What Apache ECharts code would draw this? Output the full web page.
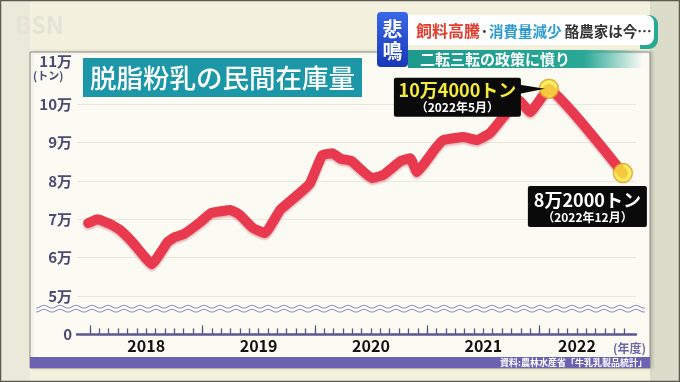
<!DOCTYPE html>
<html><head><meta charset="utf-8">
<script src="https://cdn.jsdelivr.net/npm/echarts@6/dist/echarts.min.js"></script>
<style>html,body{margin:0;padding:0;background:#f3f1dd}#c{width:680px;height:382px}</style>
</head><body><div id="c"></div>
<script>
// months counted from April 2018 (start of fiscal 2018)
const monthIdx = [-0.2, 0.8, 2.1, 3.2, 4.5, 6.6, 8.3, 9.1, 10.0, 11.8, 12.9, 15.0, 16.0, 17.4, 18.7, 20.3, 22.4, 23.5, 24.8, 25.9, 26.8, 27.9, 30.1, 31.3, 33.2, 34.2, 34.9, 36.9, 37.7, 39.9, 41.3, 42.7, 45.8, 47.0, 49.0, 56.9];
// private stock of skim milk powder, 万トン
const stock = [6.90, 7.00, 6.88, 6.72, 6.41, 5.83, 6.41, 6.54, 6.61, 6.93, 7.16, 7.24, 7.11, 6.77, 6.64, 7.24, 7.68, 7.94, 8.67, 8.72, 8.57, 8.52, 8.07, 8.15, 8.52, 8.59, 8.23, 8.85, 9.06, 9.14, 9.06, 9.24, 10.1, 9.79, 10.4, 8.2];
const yearLabels = ['2018', '2019', '2020', '2021', '2022'];
const yearLabelPos = [6, 18, 30, 42, 52];
const fiscalStarts = [0, 12, 24, 36, 48];
const firstMonthTick = 0, lastMonthTick = 57;
const peakIndex = 34, endIndex = 35;
const peakText = '10万4000トン', peakDate = '（2022年5月）';
const endText = '8万2000トン', endDate = '（2022年12月）';
const FONT = 'Noto Sans CJK JP';

const XMIN = -1.39, XMAX = 58.3, GL = 77, GW = 559;
const px = m => GL + (m - XMIN) / (XMAX - XMIN) * GW;

const chart = echarts.init(document.getElementById('c'), null, {renderer: 'canvas'});
const gridBox = {left: GL, right: 680 - GL - GW, top: 65.6, bottom: 47.6, containLabel: false};
const tickGrid = {left: px(firstMonthTick), right: 680 - px(lastMonthTick), top: 65.6, bottom: 47.6, containLabel: false};
chart.setOption({
  backgroundColor: '#f3f1dd',
  animation: false,
  grid: [gridBox, Object.assign({}, gridBox), tickGrid],
  xAxis: [
    {type: 'value', min: XMIN, max: XMAX, gridIndex: 0, position: 'bottom',
      splitLine: {show: false},
      axisLine: {show: true, lineStyle: {color: '#5b5890', width: 2.5}},
      axisTick: {show: false},
      axisLabel: {show: true, customValues: yearLabelPos, margin: 4,
        formatter: v => yearLabels[yearLabelPos.indexOf(v)] || '',
        color: '#111', fontSize: 16, fontWeight: 'bold', fontFamily: FONT}
    },
    {type: 'value', min: XMIN, max: XMAX, gridIndex: 1, position: 'bottom',
      splitLine: {show: false}, axisLine: {show: false}, axisLabel: {show: false},
      axisTick: {show: true, inside: true, length: 9, customValues: fiscalStarts, lineStyle: {color: '#5b5890', width: 1.2}}},
    {type: 'value', min: firstMonthTick, max: lastMonthTick, interval: 1, gridIndex: 2, position: 'bottom',
      splitLine: {show: false}, axisLine: {show: false}, axisLabel: {show: false},
      axisTick: {show: true, inside: true, length: 6, lineStyle: {color: '#5b5890', width: 1.3}}}
  ],
  yAxis: [{
    type: 'value', min: 4, max: 11, interval: 1, gridIndex: 0,
    axisLine: {show: false}, axisTick: {show: false},
    splitLine: {show: true, showMinLine: false, showMaxLine: false, lineStyle: {color: '#e7e7de', width: 1.2}},
    axisLabel: {margin: 5, color: '#4b4a72', fontSize: 15, fontWeight: 'bold', fontFamily: FONT,
      formatter: v => v === 4 ? '0' : (v === 11 ? '{t|11万}' : v + '万'),
      rich: {t: {color: '#4b4a72', fontSize: 15, fontWeight: 'bold', fontFamily: FONT, padding: [0, 0, 8, 0]}}}
  },
  {type: 'value', min: 4, max: 11, gridIndex: 1, show: false},
  {type: 'value', min: 4, max: 11, gridIndex: 2, show: false}],
  series: [
    {type: 'line', xAxisIndex: 0, yAxisIndex: 0, data: monthIdx.map((m, i) => [m, stock[i]]),
      symbol: 'none', smooth: 0.1, z: 5,
      lineStyle: {color: '#e8394f', width: 10, cap: 'round', join: 'round',
        shadowColor: 'rgba(190,60,80,0.35)', shadowBlur: 2, shadowOffsetY: 2}},
    {type: 'scatter', xAxisIndex: 0, yAxisIndex: 0, z: 6,
      data: [[monthIdx[peakIndex], stock[peakIndex]], [monthIdx[endIndex], stock[endIndex]]],
      symbolSize: 19,
      itemStyle: {color: '#f7ec3c', borderColor: '#e49a2c', borderWidth: 1.5}}
  ]
});

const P = chart.convertToPixel({seriesIndex: 0}, [monthIdx[peakIndex], stock[peakIndex]]);
const E = chart.convertToPixel({seriesIndex: 0}, [monthIdx[endIndex], stock[endIndex]]);

function wave(base) {
  const pts = [];
  for (let x = 36; x <= 645; x += 1) pts.push([x, base + 1.3 * Math.sin(2 * Math.PI * x / 16)]);
  return pts;
}

const g = [];
// backdrop
g.push({type: 'rect', z: -20, shape: {x: 0, y: 0, width: 30, height: 382}, style: {fill: '#ebeada'}, silent: true});
g.push({type: 'rect', z: -20, shape: {x: 650, y: 0, width: 30, height: 382}, style: {fill: '#dcdccb'}, silent: true});
g.push({type: 'rect', z: -20, shape: {x: 0.5, y: 0.5, width: 679, height: 381}, style: {fill: 'none', stroke: '#5a5a50', lineWidth: 1.5}, silent: true});
g.push({type: 'rect', z: -10, shape: {x: 30, y: 52, width: 620, height: 316}, style: {fill: '#fbfbf4', stroke: '#8c8c84', lineWidth: 1, shadowColor: 'rgba(0,0,0,0.15)', shadowBlur: 3, shadowOffsetX: 2}, silent: true});
g.push({type: 'rect', z: 1, shape: {x: 30, y: 357, width: 620, height: 11}, style: {fill: '#6b62b2'}});
g.push({type: 'text', z: 2, style: {x: 647, y: 362.5, text: '資料:農林水産省「牛乳乳製品統計」', fill: '#fff', font: 'bold 9px ' + FONT, textAlign: 'right', textVerticalAlign: 'middle'}});
g.push({type: 'text', z: 2, style: {x: 613, y: 348, text: '(年度)', fill: '#6a66a8', font: 'bold 12px ' + FONT, textAlign: 'left', textVerticalAlign: 'middle'}});
g.push({type: 'text', z: 2, style: {x: 33, y: 76, text: '(トン)', fill: '#4b4a72', font: 'bold 11px ' + FONT, textAlign: 'left', textVerticalAlign: 'middle'}});
// axis break waves
g.push({type: 'polyline', z: 3, shape: {points: wave(306.7)}, style: {stroke: '#9898c8', lineWidth: 1.2, fill: 'none'}});
g.push({type: 'polyline', z: 3, shape: {points: wave(310.7)}, style: {stroke: '#9898c8', lineWidth: 1.2, fill: 'none'}});
// title
g.push({type: 'rect', z: 20, shape: {x: 83, y: 58, width: 279, height: 39}, style: {fill: '#1b97a8'}});
g.push({type: 'text', z: 21, style: {x: 222.5, y: 78, text: '脱脂粉乳の民間在庫量', fill: '#fff', font: '500 26.5px ' + FONT, textAlign: 'center', textVerticalAlign: 'middle'}});
// logo
g.push({type: 'text', z: 21, style: {x: 15, y: 25, text: 'BSN', fill: '#e4e4d6', font: 'bold 24px ' + FONT, textAlign: 'left', textVerticalAlign: 'middle'}});
// TV caption
g.push({type: 'rect', z: 30, shape: {x: 408, y: 50, width: 235, height: 18}, style: {fill: new echarts.graphic.LinearGradient(0, 0, 1, 0, [{offset: 0, color: '#1d9a8c'}, {offset: 0.75, color: '#2aa896'}, {offset: 1, color: 'rgba(42,168,150,0)'}])}});
g.push({type: 'text', z: 31, style: {x: 420, y: 59.5, text: '二転三転の政策に憤り', fill: '#fff', font: 'bold 15px ' + FONT, textAlign: 'left', textVerticalAlign: 'middle'}});
g.push({type: 'rect', z: 30, shape: {x: 640, y: 15, width: 18, height: 34, r: [0, 9, 9, 0]}, style: {fill: '#2aa896'}});
g.push({type: 'rect', z: 31, shape: {x: 406, y: 15, width: 248, height: 30, r: [0, 8, 8, 0]}, style: {fill: '#ffffff'}});
g.push({type: 'text', z: 32, style: {x: 416, y: 31, text: '{r|飼料高騰}{d|·}{b|消費量減少}{e| 酪農家は今…}',
  rich: {r: {fill: '#e23c2c', font: 'bold 16px ' + FONT}, d: {fill: '#333', font: 'bold 15px ' + FONT}, b: {fill: '#2c9bd1', font: 'bold 14.5px ' + FONT}, e: {fill: '#333', font: 'bold 14.5px ' + FONT}},
  textAlign: 'left', textVerticalAlign: 'middle'}});
g.push({type: 'rect', z: 33, shape: {x: 377, y: 12, width: 31, height: 55, r: 4}, style: {fill: new echarts.graphic.LinearGradient(0, 0, 0, 1, [{offset: 0, color: '#3a66e8'}, {offset: 1, color: '#1838b8'}])}});
g.push({type: 'text', z: 34, style: {x: 392.5, y: 29, text: '悲', fill: '#fff', font: 'bold 20px ' + FONT, textAlign: 'center', textVerticalAlign: 'middle'}});
g.push({type: 'text', z: 34, style: {x: 392.5, y: 51, text: '鳴', fill: '#fff', font: 'bold 20px ' + FONT, textAlign: 'center', textVerticalAlign: 'middle'}});
// peak label
const pb = {x: P[0] - 155, y: P[1] - 11, w: 127, h: 39};
g.push({type: 'polygon', z: 40, shape: {points: [[pb.x + pb.w - 1, P[1] - 4], [pb.x + pb.w - 1, P[1] + 5], [P[0] - 4, P[1]]]}, style: {fill: '#0a0a0a'}});
g.push({type: 'rect', z: 40, shape: {x: pb.x, y: pb.y, width: pb.w, height: pb.h, r: 2}, style: {fill: '#0a0a0a'}});
g.push({type: 'text', z: 41, style: {x: pb.x + pb.w / 2, y: pb.y + 13, text: peakText, fill: '#f4ea3a', font: 'bold 18px ' + FONT, textAlign: 'center', textVerticalAlign: 'middle'}});
g.push({type: 'text', z: 41, style: {x: pb.x + pb.w / 2, y: pb.y + 30, text: peakDate, fill: '#fff', font: 'bold 12px ' + FONT, textAlign: 'center', textVerticalAlign: 'middle'}});
// end label
const eb = {x: E[0] - 95, y: E[1] + 13, w: 119, h: 41};
g.push({type: 'rect', z: 40, shape: {x: eb.x, y: eb.y, width: eb.w, height: eb.h, r: 2}, style: {fill: '#0a0a0a'}});
g.push({type: 'text', z: 41, style: {x: eb.x + eb.w / 2, y: eb.y + 14, text: endText, fill: '#fff', font: 'bold 18px ' + FONT, textAlign: 'center', textVerticalAlign: 'middle'}});
g.push({type: 'text', z: 41, style: {x: eb.x + eb.w / 2, y: eb.y + 31, text: endDate, fill: '#fff', font: 'bold 12px ' + FONT, textAlign: 'center', textVerticalAlign: 'middle'}});

chart.setOption({graphic: g});
</script></body></html>
